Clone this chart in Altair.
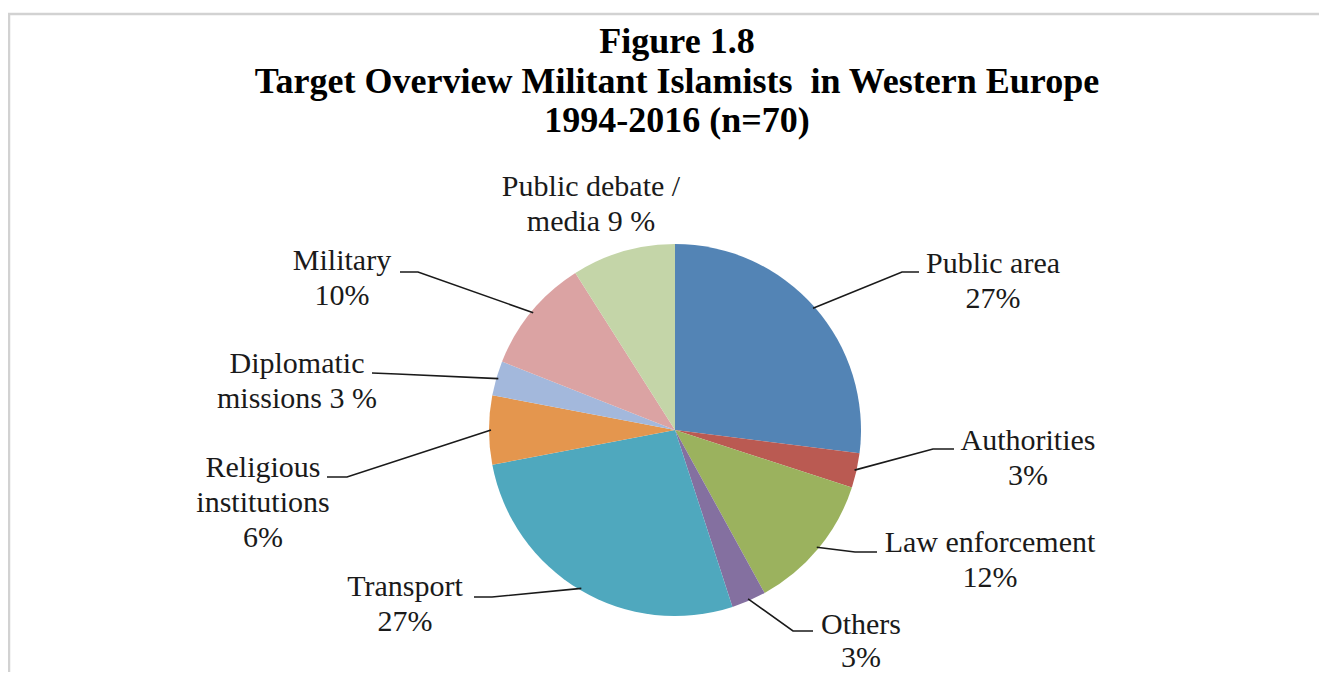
import math
import altair as alt
import pandas as pd

# ---------------- data ----------------
categories = ["Public area", "Authorities", "Law enforcement", "Others", "Transport",
              "Religious institutions", "Diplomatic missions", "Military", "Public debate / media"]
values = [27, 3, 12, 3, 27, 6, 3, 10, 9]
label_lines = [["Public area", "27%"], ["Authorities", "3%"], ["Law enforcement", "12%"],
               ["Others", "3%"], ["Transport", "27%"], ["Religious", "institutions", "6%"],
               ["Diplomatic", "missions 3 %"], ["Military", "10%"], ["Public debate /", "media 9 %"]]
title_lines = ["Figure 1.8", "Target Overview Militant Islamists\u00a0 in Western Europe", "1994-2016 (n=70)"]

# ---------------- style / layout ----------------
colors = ["#5384B5", "#BA5A52", "#9BB25E", "#8470A0", "#4FA8BE",
          "#E4964E", "#A3B8DC", "#DBA3A3", "#C4D5A8"]
W, H = 1311, 664          # drawing area
OX, OY = 8, 8             # page offset of the drawing
CX, CY, R = 675, 430, 186  # pie centre / radius (page px)
# label centre x, first baseline y, line gap, leader elbow, leader end (page px)
label_layout = [
    (993, 273, 35, (902, 272), (919, 272)),
    (1028, 450, 35, (933, 449), (954, 449)),
    (990, 552, 35, (855, 552), (877, 552)),
    (861, 634, 33, (793, 631), (813, 631)),
    (405, 596, 35, (492, 597), (474, 597)),
    (263, 477, 35, (347, 477), (327, 477)),
    (297, 373, 35, (397, 374), (372, 373)),
    (342, 270, 35, (418, 272), (400, 272)),
    (591, 196, 35, None, None),
]
title_x, title_baselines = 677, [53, 93, 132]

# ---------------- tables ----------------
pie_df = pd.DataFrame({"cat": categories, "value": values, "order": list(range(len(values)))})

total = sum(values)
lead_rows, text_rows = [], []
cum = 0
for i, (cat, v) in enumerate(zip(categories, values)):
    mid = (cum + v / 2) / total * 2 * math.pi
    cum += v
    lx, ly, gap, elbow, end = label_layout[i]
    for j, t in enumerate(label_lines[i]):
        text_rows.append({"t": t, "x": lx, "y": ly + j * gap})
    if elbow is not None:
        sx = CX + (R - 2) * math.sin(mid)
        sy = CY - (R - 2) * math.cos(mid)
        for k, (px, py) in enumerate([(sx, sy), elbow, end]):
            lead_rows.append({"cat": cat, "seq": k, "x": px, "y": py})
lead_df = pd.DataFrame(lead_rows)
text_df = pd.DataFrame(text_rows)
title_df = pd.DataFrame({"t": title_lines, "x": [title_x] * 3, "y": title_baselines})

xs = alt.Scale(domain=[OX, OX + W], nice=False, zero=False)
ys = alt.Scale(domain=[OY + H, OY], nice=False, zero=False)

pie = alt.Chart(pie_df).mark_arc(radius=R).encode(
    theta=alt.Theta("value:Q", stack=True),
    color=alt.Color("cat:N", scale=alt.Scale(domain=categories, range=colors), legend=None),
    order=alt.Order("order:Q"),
    x=alt.value(CX - OX),
    y=alt.value(CY - OY),
)

leaders = alt.Chart(lead_df).mark_line(color="#1a1a1a", strokeWidth=1.6).encode(
    x=alt.X("x:Q", scale=xs, axis=None),
    y=alt.Y("y:Q", scale=ys, axis=None),
    detail="cat:N",
    order="seq:Q",
)

labels = alt.Chart(text_df).mark_text(
    font="Liberation Serif", fontSize=30, color="#1a1a1a", align="center", baseline="alphabetic"
).encode(
    x=alt.X("x:Q", scale=xs, axis=None),
    y=alt.Y("y:Q", scale=ys, axis=None),
    text="t:N",
)

title = alt.Chart(title_df).mark_text(
    font="Liberation Serif", fontSize=36, fontWeight="bold", color="#000000",
    align="center", baseline="alphabetic"
).encode(
    x=alt.X("x:Q", scale=xs, axis=None),
    y=alt.Y("y:Q", scale=ys, axis=None),
    text="t:N",
)

frame_top = alt.Chart(pd.DataFrame({"k": [0]})).mark_rule(color="#D2D2D2", strokeWidth=2.5).encode(
    x=alt.value(0), x2=alt.value(W), y=alt.value(14 - OY)
)
frame_left = alt.Chart(pd.DataFrame({"k": [0]})).mark_rule(color="#D2D2D2", strokeWidth=2.5).encode(
    x=alt.value(1), y=alt.value(14 - OY), y2=alt.value(H)
)

chart = alt.layer(frame_top, frame_left, pie, leaders, labels, title).properties(
    width=W, height=H, padding=0, autosize=alt.AutoSizeParams(type="none")
).configure_view(stroke=None)

chart.save("out.html", embed_options={"renderer": "svg", "actions": False})
